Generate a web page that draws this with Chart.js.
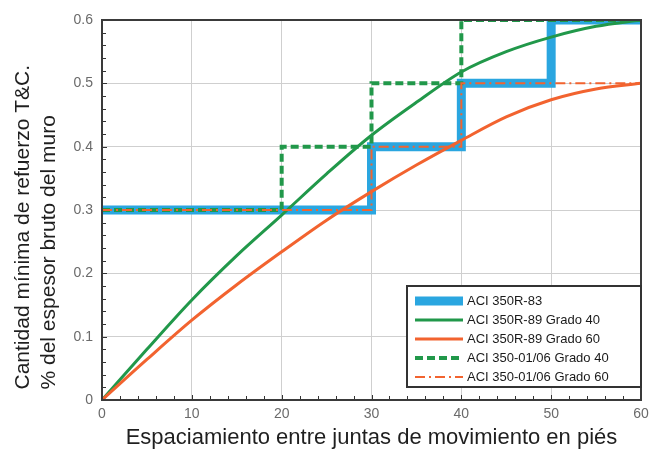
<!DOCTYPE html>
<html>
<head>
<meta charset="utf-8">
<script src="https://cdn.jsdelivr.net/npm/chart.js@4"></script>
<style>
  html, body { margin: 0; padding: 0; background: #ffffff; }
  #wrap { width: 659px; height: 452px; }
</style>
</head>
<body>
<div id="wrap"><canvas id="chart"></canvas></div>
<script>
// stepped requirements (x = spacing in ft, y = % of gross section)
const aci83X = [0, 30, 40, 50, 60];
const aci83Y = [0.3, 0.4, 0.5, 0.6, 0.6];

const aci0106g40X = [0, 20, 30, 40, 60];
const aci0106g40Y = [0.3, 0.4, 0.5, 0.6, 0.6];

const aci0106g60X = [0, 30, 40, 60];
const aci0106g60Y = [0.3, 0.4, 0.5, 0.5];

// curves
const curveX = [0, 5, 10, 15, 20, 25, 30, 35, 40, 45, 50, 55, 60];
const aci89g40Y = [0, 0.08, 0.158, 0.228, 0.292, 0.357, 0.418, 0.47, 0.518, 0.55, 0.573, 0.59, 0.6];
const aci89g60Y = [0, 0.064, 0.126, 0.182, 0.234, 0.284, 0.329, 0.371, 0.41, 0.447, 0.474, 0.491, 0.5];

const xTicks = [0, 10, 20, 30, 40, 50, 60];
const yTicks = [0, 0.1, 0.2, 0.3, 0.4, 0.5, 0.6];

const seriesNames = [
  "ACI 350R-83",
  "ACI 350R-89 Grado 40",
  "ACI 350R-89 Grado 60",
  "ACI 350-01/06 Grado 40",
  "ACI 350-01/06 Grado 60"
];

const BLUE = "#2aa6e0";
const GREEN = "#21984a";
const ORANGE = "#f2632f";
const FONT = "'Liberation Sans', Arial, sans-serif";

function toPoints(xs, ys) {
  return xs.map((x, i) => ({ x: x, y: ys[i] }));
}

// minor ticks on left and bottom axes, plus the frame
const framePlugin = {
  id: "frame",
  beforeDatasetsDraw(chart) {
    const ctx = chart.ctx;
    const area = chart.chartArea;
    const xs = chart.scales.x;
    const ys = chart.scales.y;
    ctx.save();
    ctx.strokeStyle = "#333";
    ctx.lineWidth = 1;
    ctx.beginPath();
    for (let v = 0; v <= 60; v += 2) {
      const px = Math.round(xs.getPixelForValue(v)) + 0.5;
      const len = v % 10 === 0 ? 5 : 4;
      ctx.moveTo(px, area.bottom);
      ctx.lineTo(px, area.bottom - len);
    }
    for (let k = 0; k <= 30; k++) {
      const py = Math.round(ys.getPixelForValue(k * 0.02)) + 0.5;
      const len = k % 5 === 0 ? 5 : 4;
      ctx.moveTo(area.left, py);
      ctx.lineTo(area.left + len, py);
    }
    ctx.stroke();
    ctx.restore();
  },
  afterDatasetsDraw(chart) {
    const ctx = chart.ctx;
    const a = chart.chartArea;
    ctx.save();
    ctx.strokeStyle = "#3a3a3a";
    ctx.lineWidth = 2;
    ctx.strokeRect(a.left, a.top, a.right - a.left, a.bottom - a.top);
    ctx.restore();
  }
};

// legend box drawn inside the plot, lower right
const boxLegend = {
  id: "boxLegend",
  afterDraw(chart) {
    const ctx = chart.ctx;
    const a = chart.chartArea;
    const w = 234, h = 101;
    const left = a.right - w;
    const top = 286;
    ctx.save();
    ctx.fillStyle = "#ffffff";
    ctx.fillRect(left, top, w, h);
    ctx.strokeStyle = "#333";
    ctx.lineWidth = 2;
    ctx.strokeRect(left, top, w, h);
    ctx.font = "13px " + FONT;
    ctx.textBaseline = "middle";
    chart.data.datasets.forEach((ds, i) => {
      const y = top + 15 + i * 19;
      ctx.save();
      ctx.strokeStyle = ds.borderColor;
      ctx.lineWidth = ds.borderWidth;
      ctx.setLineDash(ds.borderDash || []);
      ctx.beginPath();
      ctx.moveTo(left + 8, y);
      ctx.lineTo(left + 56, y);
      ctx.stroke();
      ctx.restore();
      ctx.fillStyle = "#1a1a1a";
      ctx.fillText(ds.label, left + 60, y);
    });
    ctx.restore();
  }
};

const ctx = document.getElementById("chart").getContext("2d");
new Chart(ctx, {
  type: "line",
  data: {
    datasets: [
      {
        label: seriesNames[0],
        data: toPoints(aci83X, aci83Y),
        borderColor: BLUE,
        borderWidth: 9,
        stepped: "before",
        order: 5
      },
      {
        label: seriesNames[1],
        data: toPoints(curveX, aci89g40Y),
        borderColor: GREEN,
        borderWidth: 3,
        cubicInterpolationMode: "monotone",
        order: 4
      },
      {
        label: seriesNames[2],
        data: toPoints(curveX, aci89g60Y),
        borderColor: ORANGE,
        borderWidth: 3,
        cubicInterpolationMode: "monotone",
        order: 3
      },
      {
        label: seriesNames[3],
        data: toPoints(aci0106g40X, aci0106g40Y),
        borderColor: GREEN,
        borderWidth: 4,
        borderDash: [8, 4],
        stepped: "before",
        order: 2
      },
      {
        label: seriesNames[4],
        data: toPoints(aci0106g60X, aci0106g60Y),
        borderColor: ORANGE,
        borderWidth: 2,
        borderDash: [10, 4, 2, 4],
        stepped: "before",
        order: 1
      }
    ]
  },
  options: {
    responsive: true,
    maintainAspectRatio: false,
    animation: false,
    layout: { padding: { left: 0, right: 18, top: 20, bottom: 0 } },
    elements: { point: { radius: 0 }, line: { fill: false } },
    plugins: {
      legend: { display: false },
      tooltip: { enabled: false }
    },
    scales: {
      x: {
        type: "linear",
        min: 0,
        max: 60,
        afterBuildTicks(scale) { scale.ticks = xTicks.map(v => ({ value: v })); },
        afterFit(scale) { scale.height = 52; },
        grid: { color: "#cfcfcf", lineWidth: 1, drawTicks: false },
        border: { display: false },
        ticks: {
          color: "#6a6a6a",
          padding: 6,
          maxRotation: 0,
          font: { family: FONT, size: 14 }
        },
        title: {
          display: true,
          text: "Espaciamiento entre juntas de movimiento en piés",
          color: "#1f1f1f",
          padding: { top: 0, bottom: 1 },
          font: { family: FONT, size: 22 }
        }
      },
      y: {
        type: "linear",
        min: 0,
        max: 0.6,
        afterBuildTicks(scale) { scale.ticks = yTicks.map(v => ({ value: v })); },
        afterFit(scale) { scale.width = 102; },
        grid: { color: "#cfcfcf", lineWidth: 1, drawTicks: false },
        border: { display: false },
        ticks: {
          color: "#6a6a6a",
          padding: 9,
          font: { family: FONT, size: 14 },
          callback: v => (v === 0 ? "0" : v.toFixed(1))
        },
        title: {
          display: true,
          align: "start",
          text: ["\u2002Cantidad mínima de refuerzo T&C.", "\u2002% del espesor bruto del muro"],
          color: "#1f1f1f",
          padding: { top: 11, bottom: 0 },
          font: { family: FONT, size: 21 }
        }
      }
    }
  },
  plugins: [framePlugin, boxLegend]
});
</script>
</body>
</html>
